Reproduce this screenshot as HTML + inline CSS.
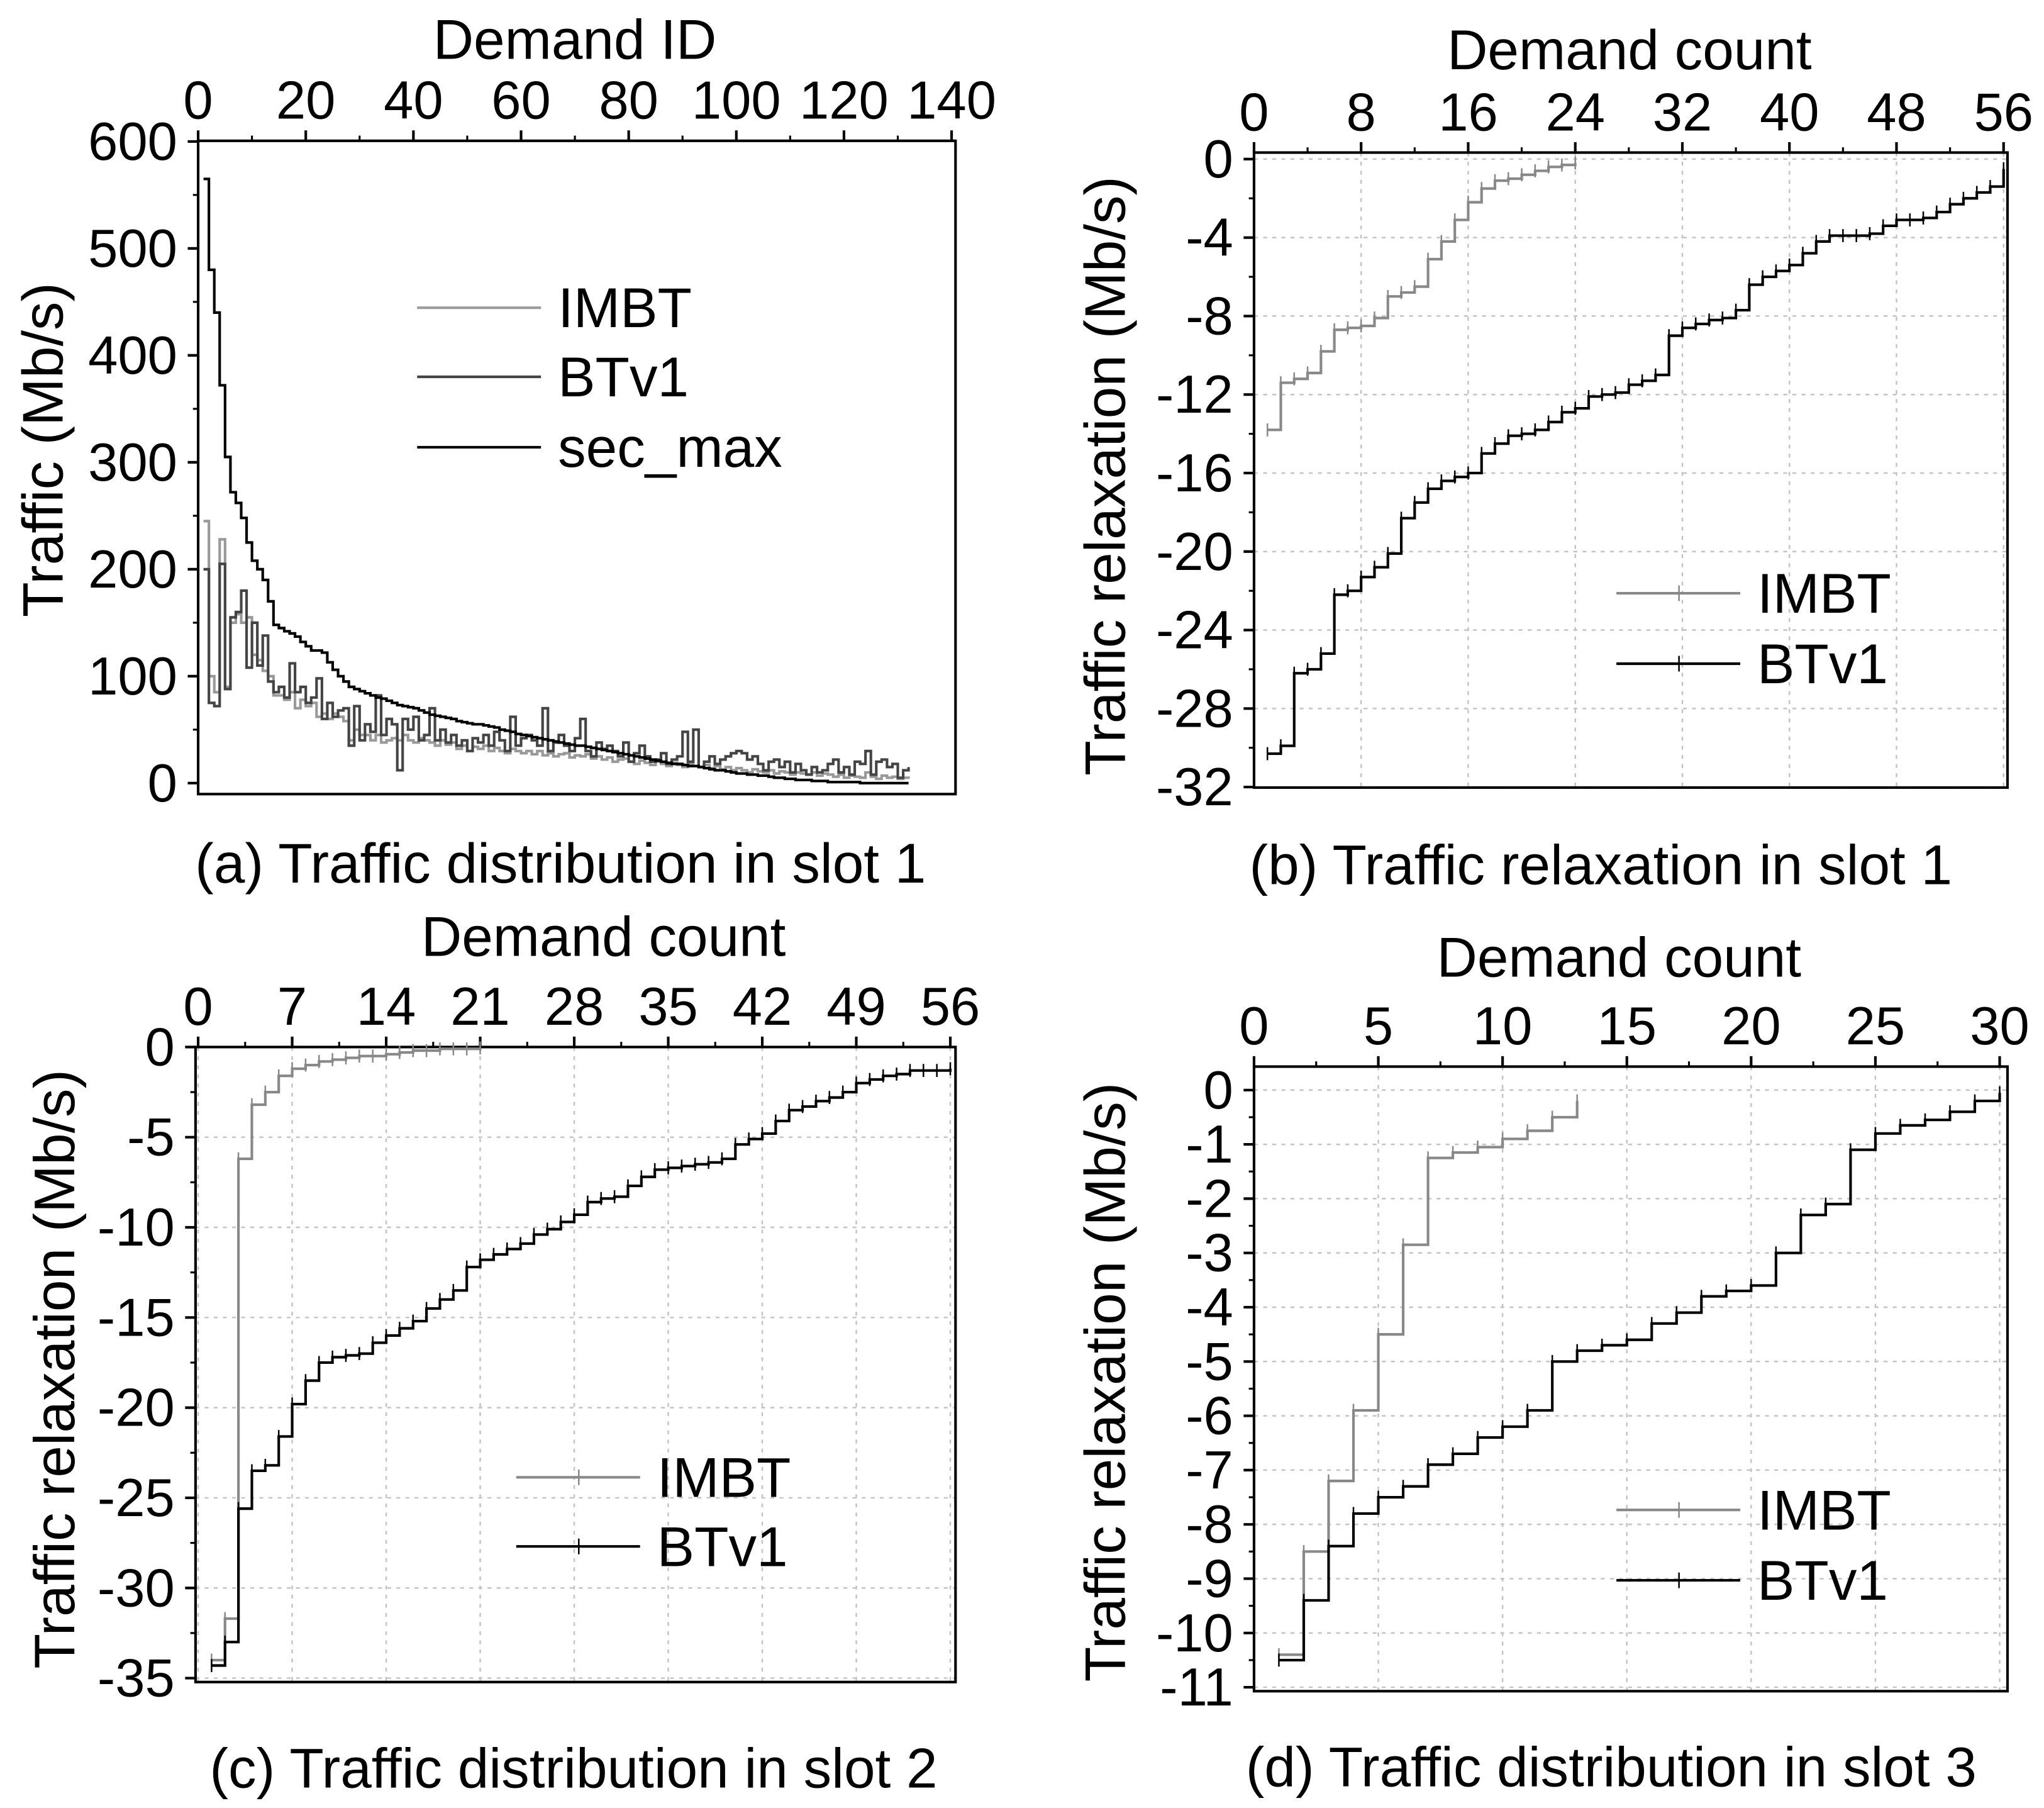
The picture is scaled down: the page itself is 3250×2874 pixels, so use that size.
<!DOCTYPE html>
<html><head><meta charset="utf-8"><style>
html,body{margin:0;padding:0;background:#fff;}
svg{display:block;}
text{font-family:"Liberation Sans",Arial,sans-serif;fill:#000;}
</style></head><body>
<svg id="fig" xmlns="http://www.w3.org/2000/svg" width="3250" height="2874" viewBox="0 0 1568 1386.6"></svg>
<script>
// ---- Panel (a) data ----
const aSecMax=[565,480,440,372,305,272,262,248,225,208,200,190,170,148,145,142,140,137,132,128,124,124,122,113,106,100,95,90,88,86,84,82,80,79,77,75,73,72,71,70,68,66,64,63,62,61,60,58,57,56,55,55,54,53,52,50,49,48,46,45,44,43,42,41,40,39,38,37,36,35,35,34,33,32,31,30,29,28,27,26,25,24,23,22,21,20,19,18,18,17,16,16,15,14,13,12,12,11,10,9,9,8,8,7,7,6,5,5,4,4,3,3,3,2,2,2,1,1,1,1,1,1,0,0,0,0,0,0,0,0,0,0];
const aBTv1=[200,75,72,205,88,155,160,180,108,150,110,138,95,85,90,80,112,85,90,75,80,98,60,75,62,68,70,35,72,40,55,48,82,45,60,55,12,60,50,62,40,45,70,40,50,38,45,35,40,30,42,38,45,35,48,40,30,62,35,42,45,40,35,70,30,38,45,35,30,42,60,30,25,38,32,35,30,25,38,20,28,35,25,20,22,28,18,22,25,48,20,50,15,20,25,18,22,25,28,30,28,22,25,18,12,20,22,15,20,10,18,12,8,15,10,12,18,22,10,15,8,20,18,30,8,20,22,15,18,5,12,15];
const aIMBT=[245,100,85,228,90,150,158,150,155,120,115,105,100,82,82,78,85,70,78,72,75,62,65,60,65,62,58,40,50,45,45,40,45,38,40,42,40,45,40,38,42,40,38,35,40,36,38,32,35,30,34,32,35,30,33,30,28,32,30,28,30,27,30,26,28,25,27,28,24,26,25,27,23,25,22,24,20,22,23,20,18,21,19,17,20,18,16,19,17,15,18,16,15,17,14,16,13,15,12,14,12,10,13,11,10,12,9,11,10,8,10,9,8,10,7,9,8,6,8,5,7,6,5,10,6,4,7,5,6,4,5,4];
const aXTicks=[0,20,40,60,80,100,120,140];
const aYTicks=[0,100,200,300,400,500,600];
// ---- Panel (b) data ----
const bIMBT=[-13.8,-11.4,-11.2,-10.9,-9.8,-8.7,-8.6,-8.5,-8.1,-7.0,-6.8,-6.5,-5.1,-4.2,-3.1,-2.2,-1.5,-1.1,-1.0,-0.8,-0.6,-0.4,-0.3,-0.2];
const bBTv1=[-30.3,-29.9,-26.2,-26.0,-25.2,-22.2,-22.0,-21.3,-20.8,-20.1,-18.3,-17.5,-16.8,-16.4,-16.2,-16.0,-15.0,-14.5,-14.1,-14.0,-13.8,-13.4,-12.9,-12.7,-12.1,-12.0,-11.9,-11.5,-11.3,-11.0,-9.0,-8.6,-8.4,-8.2,-8.1,-7.7,-6.4,-6.0,-5.7,-5.4,-4.8,-4.2,-3.9,-3.9,-3.9,-3.8,-3.4,-3.1,-3.1,-3.0,-2.7,-2.3,-2.0,-1.7,-1.4,-0.5];
const bXTicks=[0,8,16,24,32,40,48,56];
const bYTicks=[0,-4,-8,-12,-16,-20,-24,-28,-32];
// ---- Panel (c) data ----
const cIMBT=[-34,-31.7,-6.2,-3.2,-2.5,-1.6,-1.2,-1.0,-0.8,-0.7,-0.6,-0.5,-0.5,-0.4,-0.3,-0.2,-0.2,-0.1,-0.1,-0.1,-0.05];
const cBTv1=[-34.3,-33.0,-25.6,-23.5,-23.2,-21.6,-19.8,-18.5,-17.5,-17.2,-17.1,-17.0,-16.4,-16.0,-15.6,-15.2,-14.5,-14.0,-13.5,-12.2,-11.8,-11.5,-11.2,-10.9,-10.4,-10.1,-9.7,-9.3,-8.6,-8.4,-8.3,-7.7,-7.2,-6.8,-6.7,-6.6,-6.5,-6.4,-6.2,-5.4,-5.1,-4.8,-4.1,-3.5,-3.3,-3.0,-2.8,-2.5,-2.0,-1.8,-1.6,-1.5,-1.3,-1.3,-1.3,-1.2];
const cXTicks=[0,7,14,21,28,35,42,49,56];
const cYTicks=[0,-5,-10,-15,-20,-25,-30,-35];
// ---- Panel (d) data ----
const dIMBT=[-10.4,-8.5,-7.2,-5.9,-4.5,-2.85,-1.25,-1.15,-1.05,-0.9,-0.75,-0.5,-0.2];
const dBTv1=[-10.5,-9.4,-8.4,-7.8,-7.5,-7.3,-6.9,-6.7,-6.4,-6.2,-5.9,-5.0,-4.8,-4.7,-4.6,-4.3,-4.1,-3.8,-3.7,-3.6,-3.0,-2.3,-2.1,-1.1,-0.8,-0.65,-0.55,-0.4,-0.2,-0.05];
const dXTicks=[0,5,10,15,20,25,30];
const dYTicks=[0,-1,-2,-3,-4,-5,-6,-7,-8,-9,-10,-11];

const NS='http://www.w3.org/2000/svg';
const svg=document.getElementById('fig');
function mk(tag,attrs,parent){const e=document.createElementNS(NS,tag);for(const k in attrs)e.setAttribute(k,attrs[k]);(parent||svg).appendChild(e);return e;}
function txt(s,x,y,size,anchor,parent,rot){const t=mk('text',{x:x,y:y,'font-size':size,'text-anchor':anchor||'middle'},parent);if(rot)t.setAttribute('transform','rotate(-90 '+x+' '+y+')');t.textContent=s;return t;}

function panel(cfg){
  const g=mk('g',{});
  
  
  const sx=v=>cfg.x0+(v-cfg.xmin)/(cfg.xmax-cfg.xmin)*(cfg.x1-cfg.x0);
  const sy=v=>cfg.y0+(v-cfg.ymin)/(cfg.ymax-cfg.ymin)*(cfg.y1-cfg.y0);
  if(cfg.grid){
    cfg.xt.forEach(v=>{const l=mk('line',{x1:sx(v),x2:sx(v),y1:cfg.bt,y2:cfg.bb,stroke:'#c4c4c4','stroke-width':1.2,'stroke-dasharray':'3,4'},g);
      });
    cfg.yt.forEach(v=>{const l=mk('line',{x1:cfg.bl,x2:cfg.br,y1:sy(v),y2:sy(v),stroke:'#c4c4c4','stroke-width':1.2,'stroke-dasharray':'3,4'},g);
      });
  }
  const box=mk('rect',{x:cfg.bl,y:cfg.bt,width:cfg.br-cfg.bl,height:cfg.bb-cfg.bt,fill:'none',stroke:'#000','stroke-width':2},g);
  
  cfg.xt.forEach((v,i)=>{
    mk('line',{x1:sx(v),x2:sx(v),y1:cfg.bt,y2:cfg.bt-8,stroke:'#000','stroke-width':2},g);
    if(i<cfg.xt.length-1){const m=(v+cfg.xt[i+1])/2;mk('line',{x1:sx(m),x2:sx(m),y1:cfg.bt,y2:cfg.bt-4,stroke:'#000','stroke-width':1.5},g);}
    const t=txt(String(v),sx(v),cfg.bt-17,41,'middle',g);
    
  });
  cfg.yt.forEach((v,i)=>{
    mk('line',{x1:cfg.bl,x2:cfg.bl-8,y1:sy(v),y2:sy(v),stroke:'#000','stroke-width':2},g);
    if(i<cfg.yt.length-1){const m=(v+cfg.yt[i+1])/2;mk('line',{x1:cfg.bl,x2:cfg.bl-4,y1:sy(m),y2:sy(m),stroke:'#000','stroke-width':1.5},g);}
    const t=txt(String(v),cfg.bl-16,sy(v)+14,41,'end',g);
    
  });
  cfg.series.forEach(s=>{
    let d='';
    s.data.forEach((v,i)=>{const x=sx(i+1),y=sy(v);
      if(i===0)d+='M'+x+' '+y;else d+=' H'+x+' V'+y;});
    d+=' H'+sx(s.data.length+(cfg.tail||0));
    const p=mk('path',{d:d,fill:'none',stroke:s.color,'stroke-width':s.w||2},g);
    
    
    if(cfg.markers){s.data.forEach((v,i)=>{const x=sx(i+1),y=sy(v);
      const m=mk('line',{x1:x,x2:x,y1:y-5,y2:y+5,stroke:s.color,'stroke-width':1.2},g);
      });}
  });
  cfg.legend.forEach(L=>{
    mk('line',{x1:L.x,x2:L.x+95,y1:L.y,y2:L.y,stroke:L.color,'stroke-width':2},g);
    if(cfg.markers)mk('line',{x1:L.x+48,x2:L.x+48,y1:L.y-6,y2:L.y+6,stroke:L.color,'stroke-width':1.2},g);
    const t=txt(L.label,L.x+108,L.y+15,43,'start',g);
    
  });
  const xt=txt(cfg.xtitle,cfg.xtx,cfg.xty,43,'middle',g);
  
  const yt=txt(cfg.ytitle,cfg.ytx,cfg.yty,44,'middle',g,true);
  
  const cp=txt(cfg.caption,cfg.cx,cfg.cy,43,'middle',g);
  
}

panel({name:'panel-a',bl:152,br:733,bt:108,bb:609,x0:152,x1:730,xmin:0,xmax:140,y0:600.6,y1:108.5,ymin:0,ymax:600,
  xt:aXTicks,yt:aYTicks,grid:false,markers:false,tail:0,
  series:[{data:aIMBT,color:'#999',name:'imbt-line'},{data:aBTv1,color:'#444',name:'btv1-line'},{data:aSecMax,color:'#000',name:'sec-max-line'}],
  legend:[{x:320,y:236,color:'#999',label:'IMBT'},{x:320,y:289,color:'#444',label:'BTv1'},{x:320,y:343,color:'#000',label:'sec_max'}],
  xtitle:'Demand ID',xtx:441,xty:45,ytitle:'Traffic (Mb/s)',ytx:48,yty:345,caption:'(a) Traffic distribution in slot 1',cx:430,cy:677});

panel({name:'panel-b',bl:962,br:1540,bt:117,bb:604,x0:962,x1:1537,xmin:0,xmax:56,y0:122,y1:603.6,ymin:0,ymax:-32,
  xt:bXTicks,yt:bYTicks,grid:true,markers:true,tail:0,
  series:[{data:bIMBT,color:'#888',name:'imbt-line'},{data:bBTv1,color:'#000',name:'btv1-line'}],
  legend:[{x:1240,y:455,color:'#888',label:'IMBT'},{x:1240,y:509,color:'#000',label:'BTv1'}],
  xtitle:'Demand count',xtx:1250,xty:53,ytitle:'Traffic relaxation (Mb/s)',ytx:863,yty:365,caption:'(b) Traffic relaxation in  slot 1',cx:1228,cy:678});

panel({name:'panel-c',bl:150,br:733,bt:803,bb:1290,x0:152,x1:729,xmin:0,xmax:56,y0:803,y1:1287,ymin:0,ymax:-35,
  xt:cXTicks,yt:cYTicks,grid:true,markers:true,tail:0,
  series:[{data:cIMBT,color:'#888',name:'imbt-line'},{data:cBTv1,color:'#000',name:'btv1-line'}],
  legend:[{x:396,y:1133,color:'#888',label:'IMBT'},{x:396,y:1186,color:'#000',label:'BTv1'}],
  xtitle:'Demand count',xtx:463,xty:733,ytitle:'Traffic relaxation (Mb/s)',ytx:57,yty:1050,caption:'(c) Traffic distribution in slot 2',cx:440,cy:1371});

panel({name:'panel-d',bl:962,br:1540,bt:818,bb:1297,x0:962,x1:1534,xmin:0,xmax:30,y0:836,y1:1294,ymin:0,ymax:-11,
  xt:dXTicks,yt:dYTicks,grid:true,markers:true,tail:0,
  series:[{data:dIMBT,color:'#888',name:'imbt-line'},{data:dBTv1,color:'#000',name:'btv1-line'}],
  legend:[{x:1240,y:1158,color:'#888',label:'IMBT'},{x:1240,y:1212,color:'#000',label:'BTv1'}],
  xtitle:'Demand count',xtx:1242,xty:749,ytitle:'Traffic relaxation (Mb/s)',ytx:863,yty:1060,caption:'(d) Traffic distribution in slot 3',cx:1236,cy:1370});
</script>
</body></html>
